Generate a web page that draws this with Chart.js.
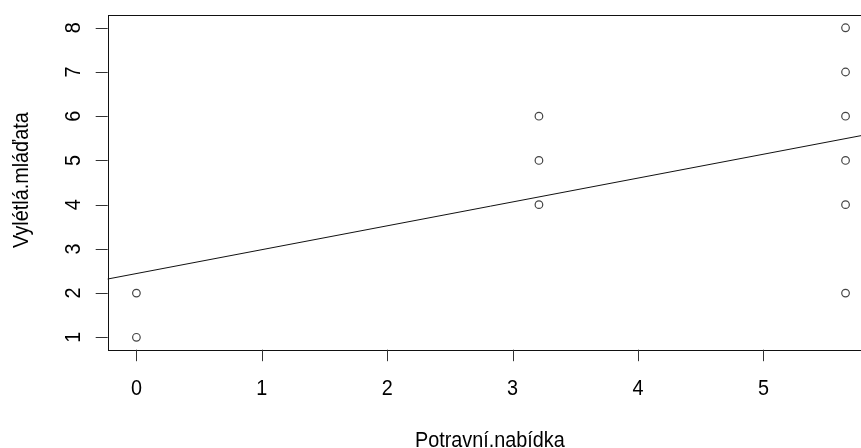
<!DOCTYPE html>
<html>
<head>
<meta charset="utf-8">
<script src="https://cdn.jsdelivr.net/npm/chart.js@4/dist/chart.umd.min.js"></script>
<style>
  html, body { margin: 0; padding: 0; background: #fff; overflow: hidden; }
  canvas { display: block; }
</style>
</head>
<body>
<canvas id="plot" width="884" height="448"></canvas>
<script>
// data
const nabidka = [0, 0, 3.21, 3.21, 3.21, 5.655, 5.655, 5.655, 5.655, 5.655, 5.655];
const mladata = [1, 2, 4, 5, 6, 2, 4, 5, 6, 7, 8];
// fitted line, two ends (abline runs across the whole plot)
const fitX = [-0.3, 6.0];
const fitY = [2.28, 5.68];
const xTicks = [0, 1, 2, 3, 4, 5];
const yTicks = [1, 2, 3, 4, 5, 6, 7, 8];
const xTitle = 'Potravní.nabídka';
const yTitle = 'Vylétlá.mláďata';

const FONT = "22px 'Liberation Sans', Arial, sans-serif";
const SQUEEZE = 0.9; // R's text is a bit narrower than Liberation Sans

function squeezedText(ctx, txt, x, y, angle) {
  ctx.save();
  ctx.translate(x, y);
  if (angle) ctx.rotate(angle);
  ctx.scale(SQUEEZE, 1);
  ctx.fillText(txt, 0, 0);
  ctx.restore();
}

// R-like axes: box, outside ticks, rotated y labels
const rAxes = {
  id: 'rAxes',
  afterDraw(chart) {
    const { ctx, chartArea: a } = chart;
    const xs = chart.scales.x, ys = chart.scales.y;
    ctx.save();
    ctx.strokeStyle = '#111';
    ctx.lineWidth = 1;
    ctx.strokeRect(Math.round(a.left) + 0.5, Math.round(a.top) + 0.5,
      Math.round(a.right - a.left), Math.round(a.bottom - a.top));

    ctx.strokeStyle = '#333';
    ctx.beginPath();
    xTicks.forEach(v => {
      const px = Math.round(xs.getPixelForValue(v)) + 0.5;
      ctx.moveTo(px, a.bottom);
      ctx.lineTo(px, a.bottom + 11.5);
    });
    yTicks.forEach(v => {
      const py = Math.round(ys.getPixelForValue(v)) + 0.5;
      ctx.moveTo(a.left, py);
      ctx.lineTo(a.left - 12, py);
    });
    ctx.stroke();

    ctx.fillStyle = '#000';
    ctx.font = FONT;
    ctx.textAlign = 'center';
    ctx.textBaseline = 'alphabetic';
    xTicks.forEach(v => squeezedText(ctx, String(v), xs.getPixelForValue(v), 395.3));
    squeezedText(ctx, xTitle, (a.left + a.right) / 2 - 1, 446.5);
    yTicks.forEach(v => squeezedText(ctx, String(v), 79.6, ys.getPixelForValue(v), -Math.PI / 2));
    squeezedText(ctx, yTitle, 28.3, (a.top + a.bottom) / 2 - 2, -Math.PI / 2);
    ctx.restore();
  }
};

new Chart(document.getElementById('plot'), {
  type: 'scatter',
  data: {
    datasets: [
      {
        data: nabidka.map((x, i) => ({ x: x, y: mladata[i] })),
        pointStyle: 'circle',
        pointRadius: 3.8,
        pointBorderWidth: 1.2,
        borderColor: '#444',
        backgroundColor: 'rgba(0,0,0,0)'
      },
      {
        type: 'line',
        data: fitX.map((x, i) => ({ x: x, y: fitY[i] })),
        borderColor: '#111',
        borderWidth: 1,
        pointRadius: 0,
        fill: false,
        clip: 0
      }
    ]
  },
  options: {
    responsive: false,
    animation: false,
    events: [],
    layout: { padding: { top: 14.5, right: 10, left: 0, bottom: 0 } },
    plugins: { legend: { display: false }, tooltip: { enabled: false } },
    scales: {
      x: {
        type: 'linear', min: -0.229, max: 5.882,
        grid: { display: false }, border: { display: false },
        ticks: { display: false },
        afterFit(s) { s.height = 448 - 349.7; }
      },
      y: {
        type: 'linear', min: 0.72, max: 8.3,
        grid: { display: false }, border: { display: false },
        ticks: { display: false },
        afterFit(s) { s.width = 107.7; }
      }
    }
  },
  plugins: [rAxes]
});
</script>
</body>
</html>
